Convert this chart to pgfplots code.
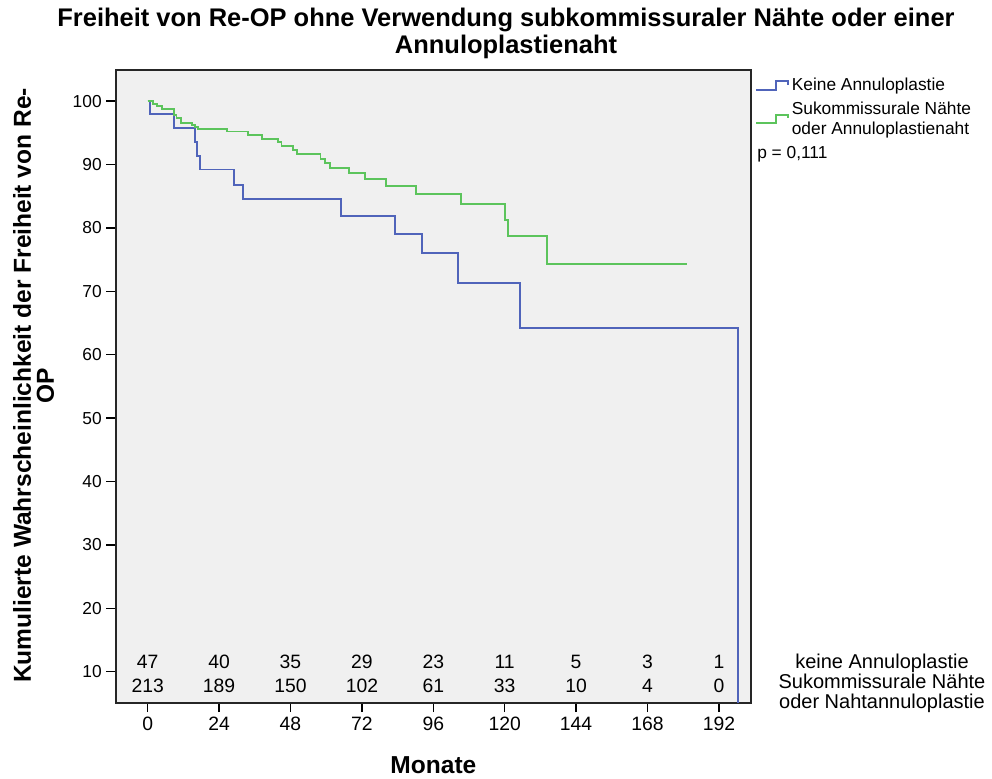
\documentclass[border=0pt]{standalone}
\usepackage{fontspec}
\setmainfont{Liberation Sans}
\usepackage{pgfplots}
\pgfplotsset{compat=1.18}

\definecolor{kmblue}{RGB}{80,100,186}
\definecolor{kmgreen}{RGB}{92,196,92}
\definecolor{plotbg}{RGB}{240,240,240}
\tikzset{risk/.style={font=\fontsize{14.5}{17}\selectfont}}

% Kaplan-Meier estimates: time in months, survival in percent
\pgfplotstableread{
t      s
0      100
0.8    97.9
8.8    95.7
15.9   93.6
16.7   91.4
17.6   89.2
29.0   86.8
32.1   84.5
65.0   81.9
83.1   79.0
92.1   76.0
104.2  71.35
125.1  64.15
198.3  0
}\keineAnnulo

\pgfplotstableread{
t      s
0      100
1.7    99.6
3.0    99.2
4.7    98.7
8.8    97.8
9.7    97.3
11.1   96.6
14.8   96.2
15.9   95.9
17.0   95.6
26.8   95.2
33.8   94.6
38.3   94.0
43.9   93.5
45.0   92.9
48.9   92.3
50.1   91.6
58.1   90.8
59.6   90.2
61.3   89.5
67.8   88.7
73.0   87.75
80.1   86.6
90.1   85.4
105.2  83.76
120.2  81.2
121.0  78.66
134.2  74.3
181.4  74.3
}\subkomm

\begin{document}
\begin{tikzpicture}
\begin{scope}[x=0.75pt,y=-0.75pt]
  \useasboundingbox (0,0) rectangle (992,778);
\end{scope}

\begin{axis}[
  at={(86.775pt,-527.025pt)}, anchor=south west,
  scale only axis, width=476.5pt, height=474.5pt,
  xmin=-10.75, xmax=202.8, ymin=5.1, ymax=104.9,
  axis background/.style={fill=plotbg},
  axis line style={line width=1.2pt, black!85},
  xtick={0,24,...,192}, ytick={10,20,...,100},
  tick pos=left, tick align=outside,
  major tick length=7pt,
  every tick/.style={line width=1.1pt, black},
  /pgf/number format/assume math mode=true,
  xticklabel style={font=\fontsize{14.5}{17}\selectfont},
  yticklabel style={font=\fontsize{13}{15}\selectfont},
  legend style={at={(axis description cs:1,1)}, anchor=north west,
    xshift=3pt, yshift=-4pt, draw=none, fill=none,
    font=\fontsize{13}{14.5}\selectfont,
    cells={anchor=west, align=left}, row sep=3pt, inner sep=0pt},
  legend image code/.code={%
    \draw[#1] (0pt,-3.2pt) -- (15pt,-3.2pt) -- (15pt,3.2pt)
      -- (24pt,3.2pt) -- (24pt,0.8pt);},
]
\addplot[const plot, color=kmblue, line width=1.4pt] table[x=t, y=s] {\keineAnnulo};
\addlegendentry{Keine Annuloplastie}
\addplot[const plot, color=kmgreen, line width=1.4pt] table[x=t, y=s] {\subkomm};
\addlegendentry{Sukommissurale Nähte\\oder Annuloplastienaht}

% numbers at risk
\node[risk] at (axis cs:0,11.53) {47};   \node[risk] at (axis cs:0,7.74) {213};
\node[risk] at (axis cs:24,11.53) {40};  \node[risk] at (axis cs:24,7.74) {189};
\node[risk] at (axis cs:48,11.53) {35};  \node[risk] at (axis cs:48,7.74) {150};
\node[risk] at (axis cs:72,11.53) {29};  \node[risk] at (axis cs:72,7.74) {102};
\node[risk] at (axis cs:96,11.53) {23};  \node[risk] at (axis cs:96,7.74) {61};
\node[risk] at (axis cs:120,11.53) {11}; \node[risk] at (axis cs:120,7.74) {33};
\node[risk] at (axis cs:144,11.53) {5};  \node[risk] at (axis cs:144,7.74) {10};
\node[risk] at (axis cs:168,11.53) {3};  \node[risk] at (axis cs:168,7.74) {4};
\node[risk] at (axis cs:192,11.53) {1};  \node[risk] at (axis cs:192,7.74) {0};
\end{axis}

\begin{scope}[x=0.75pt,y=-0.75pt]
  \node[font=\bfseries\fontsize{19.1}{20.25}\selectfont, align=center]
    at (506,33.5) {Freiheit von Re-OP ohne Verwendung subkommissuraler Nähte oder einer\\Annuloplastienaht};
  \node[font=\bfseries\fontsize{18.4}{17.25}\selectfont, align=center, rotate=90]
    at (33.5,385.5) {Kumulierte Wahrscheinlichkeit der Freiheit von Re-\\OP};
  \node[font=\bfseries\fontsize{18.4}{20}\selectfont] at (433.4,765) {Monate};
  \node[font=\fontsize{13}{15}\selectfont, anchor=west, inner sep=0pt] at (757,154.3) {p = 0,111};
  \node[font=\fontsize{15}{15}\selectfont, align=center] at (882,683)
    {keine Annuloplastie\\Sukommissurale Nähte\\oder Nahtannuloplastie};
\end{scope}
\end{tikzpicture}
\end{document}
